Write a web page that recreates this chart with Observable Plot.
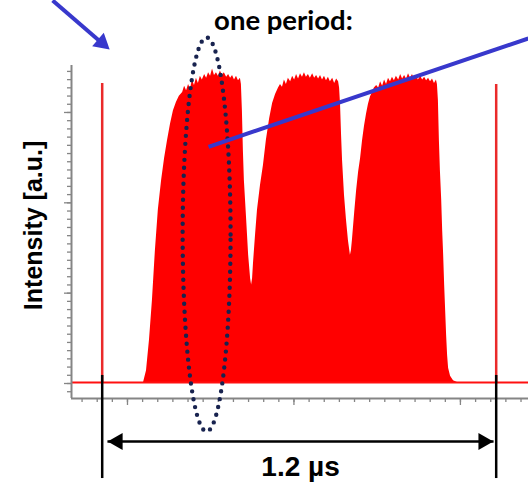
<!DOCTYPE html>
<html><head><meta charset="utf-8">
<script src="https://cdn.jsdelivr.net/npm/d3@7"></script>
<script src="https://cdn.jsdelivr.net/npm/@observablehq/plot@0.6"></script>
<style>html,body{margin:0;padding:0;background:#fff;} #chart svg{display:block;}</style>
</head><body><div id="chart"></div>
<script>
// time in ns (first reference spike at 0), intensity in a.u.
const timeNs = [126,135,144,153,162,171,181,190,199,208,217,226,235,245,251,257,263,269,275,281,287,293,299,305,312,318,324,330,336,342,348,354,360,366,372,379,385,391,397,403,409,415,421,424,427,430,433,440,446,452,455,458,461,467,473,482,491,500,510,519,528,537,543,549,555,561,567,574,580,586,592,598,604,610,616,622,628,634,641,647,653,659,665,671,677,683,689,695,702,708,714,720,723,726,729,732,738,744,750,756,759,762,769,775,781,787,793,799,805,811,817,823,829,836,842,848,854,860,866,872,878,884,890,896,903,909,915,921,927,933,939,945,951,957,963,970,976,982,988,994,1000,1006,1012,1018,1021,1024,1027,1030,1034,1037,1040,1043,1046,1049,1052,1055,1061,1070,1082];
const intensity = [0.01,0.14,0.48,0.92,1.47,1.92,2.25,2.49,2.69,2.87,3.02,3.11,3.18,3.22,3.29,3.24,3.31,3.26,3.36,3.30,3.38,3.32,3.40,3.36,3.42,3.38,3.44,3.40,3.48,3.41,3.44,3.40,3.46,3.41,3.44,3.39,3.42,3.38,3.41,3.36,3.40,3.35,3.38,3.31,3.02,2.58,2.25,1.81,1.42,1.16,1.09,1.16,1.34,1.64,1.92,2.19,2.41,2.69,2.93,3.10,3.20,3.27,3.31,3.28,3.36,3.31,3.38,3.34,3.40,3.36,3.42,3.37,3.43,3.39,3.44,3.39,3.42,3.38,3.43,3.38,3.41,3.37,3.41,3.36,3.40,3.35,3.39,3.34,3.38,3.32,3.37,3.34,3.27,3.08,2.75,2.47,2.08,1.81,1.58,1.42,1.47,1.58,1.89,2.14,2.34,2.49,2.69,2.85,2.98,3.09,3.17,3.22,3.27,3.30,3.27,3.34,3.29,3.36,3.31,3.38,3.34,3.39,3.35,3.40,3.36,3.42,3.37,3.41,3.37,3.43,3.38,3.42,3.37,3.41,3.36,3.40,3.36,3.39,3.35,3.38,3.34,3.37,3.32,3.36,3.31,3.13,2.69,2.36,2.03,1.69,1.42,1.09,0.81,0.53,0.31,0.17,0.08,0.03,0.01];
const spikeTimes = [0, 1200];
const spikeHeights = [3.32, 3.31];
const baselineLevel = 0.01;

// axis extents and ticks
const xDomain = [-93.5, 1298.4];
const yDomain = [-0.166, 3.52];
const xMajorTicks = [77, 584, 1091];
const xMinorStep = 46.1;
const yMajorTicks = [0, 1, 2, 3];
const yMinorPerMajor = 11;

// annotations (data units)
const periodLabel = "one period:";
const periodLabelPos = [552, 3.91];
const yLabel = "Intensity [a.u.]";
const yLabelPos = [-209, 1.75];
const spanLabel = "1.2 µs";
const spanLabelPos = [604, -1.02];
const spanArrowY = -0.642;
const spanMarkerRange = [0.089, -1.052];
const ellipseCenter = [318, 1.65];
const ellipseRadii = [73, 2.18];
const pointerLine = [[324, 2.62], [1298, 3.82]];
const topArrow = [[-151, 4.24], [-1, 3.77]];

const signal = timeNs.map((t, i) => ({t, I: intensity[i]}));
const spikes = spikeTimes.map((t, i) => ({t, I: spikeHeights[i]}));
const xMinorTicks = d3.range(-3, 27).map(k => xMajorTicks[0] + k * xMinorStep);
const yMinorTicks = d3.range(-1, 39).map(k => k / yMinorPerMajor);
const ellipse = d3.range(0, 361, 2).map(a => ({
  t: ellipseCenter[0] + ellipseRadii[0] * Math.cos(a * Math.PI / 180),
  I: ellipseCenter[1] + ellipseRadii[1] * Math.sin(a * Math.PI / 180)
}));
const axisGray = "#858585";
const blue = "#3838cc";

const chart = Plot.plot({
  width: 528, height: 486,
  marginLeft: 71, marginRight: 0, marginTop: 65, marginBottom: 88,
  x: {domain: xDomain, label: null},
  y: {domain: yDomain, label: null},
  style: {background: "#fff"},
  marks: [
    Plot.areaY(signal, {x: "t", y: "I", fill: "#ff0000", curve: "linear"}),
    Plot.ruleY([baselineLevel], {stroke: "#ff1010", strokeWidth: 2}),
    Plot.ruleX(spikes, {x: "t", y1: 0, y2: "I", stroke: "#ea2a2a", strokeWidth: 2.5}),
    Plot.ruleX([xDomain[0]], {stroke: axisGray, strokeWidth: 2}),
    Plot.ruleY([yDomain[0]], {stroke: axisGray, strokeWidth: 2}),
    Plot.axisX(xMinorTicks, {anchor: "bottom", tickSize: 4, tickFormat: () => "", stroke: axisGray, strokeWidth: 1.3, label: null}),
    Plot.axisX(xMajorTicks, {anchor: "bottom", tickSize: 7, tickFormat: () => "", stroke: axisGray, strokeWidth: 1.3, label: null}),
    Plot.axisY(yMinorTicks, {anchor: "left", tickSize: 4, tickFormat: () => "", stroke: axisGray, strokeWidth: 1.3, label: null}),
    Plot.axisY(yMajorTicks, {anchor: "left", tickSize: 7, tickFormat: () => "", stroke: axisGray, strokeWidth: 1.3, label: null}),
    // dotted ellipse marking one period
    Plot.line(ellipse, {x: "t", y: "I", stroke: "#18234f", strokeWidth: 4.4, strokeDasharray: "0,8", strokeLinecap: "round"}),
    // blue pointer lines
    Plot.link([pointerLine], {x1: d => d[0][0], y1: d => d[0][1], x2: d => d[1][0], y2: d => d[1][1], stroke: blue, strokeWidth: 4}),
    Plot.link([topArrow], {x1: d => d[0][0], y1: d => d[0][1], x2: d => d[1][0], y2: d => d[1][1], stroke: blue, strokeWidth: 4}),
    Plot.dot([topArrow[1]], {x: d => d[0], y: d => d[1], symbol: "triangle", r: 6.6, rotate: 130.7, fill: blue, stroke: null}),
    // period span markers and double arrow
    Plot.ruleX(spikeTimes, {x: d => d, y1: spanMarkerRange[0], y2: spanMarkerRange[1], stroke: "#000", strokeWidth: 2.5}),
    Plot.link([spikeTimes], {x1: d => d[0] + 16, x2: d => d[1] - 8, y1: spanArrowY, y2: spanArrowY, stroke: "#000", strokeWidth: 2.5}),
    Plot.dot([{t: spikeTimes[0] + 47, r: 270}, {t: spikeTimes[1] - 39, r: 90}], {x: "t", y: spanArrowY, symbol: "triangle", r: 6.4, rotate: "r", fill: "#000", stroke: null}),
    // texts
    Plot.text([periodLabel], {x: periodLabelPos[0], y: periodLabelPos[1], text: d => d, fontFamily: "Lato", fontWeight: "bold", fontSize: 27.5, textAnchor: "middle", lineAnchor: "bottom", fill: "#000"}),
    Plot.text([yLabel], {x: yLabelPos[0], y: yLabelPos[1], text: d => d, fontFamily: "Liberation Sans", fontWeight: "bold", fontSize: 25, rotate: -90, textAnchor: "middle", lineAnchor: "middle", fill: "#000"}),
    Plot.text([spanLabel], {x: spanLabelPos[0], y: spanLabelPos[1], text: d => d, fontFamily: "Liberation Sans", fontWeight: "bold", fontSize: 28, textAnchor: "middle", lineAnchor: "bottom", fill: "#000"})
  ]
});
document.getElementById("chart").appendChild(chart);
</script>
</body></html>
